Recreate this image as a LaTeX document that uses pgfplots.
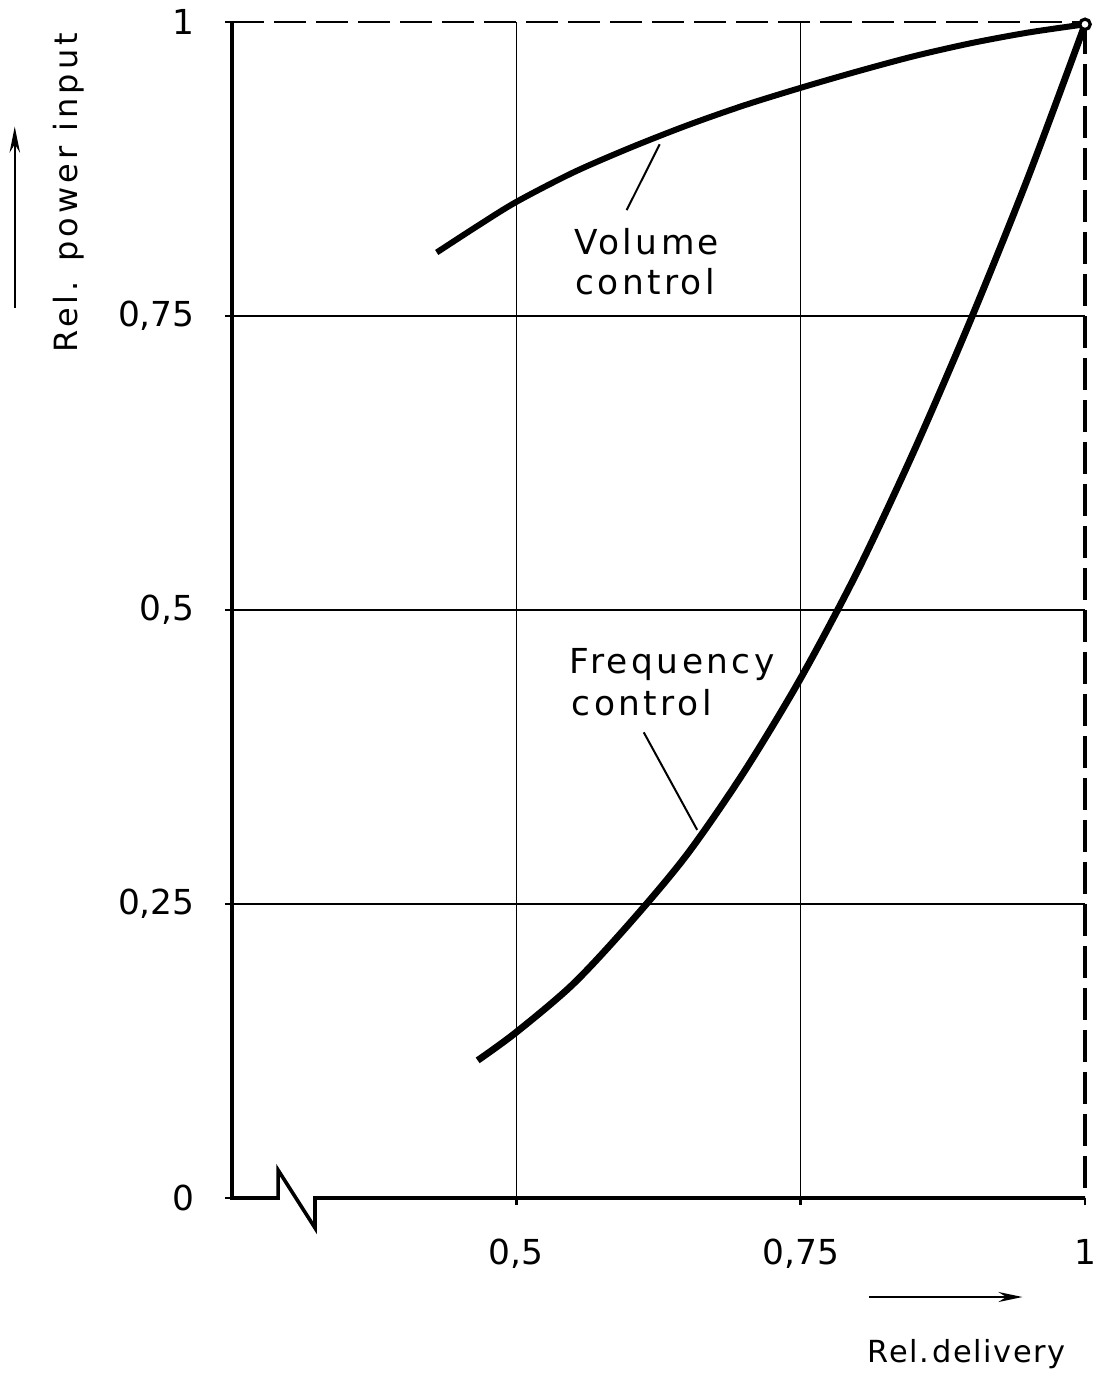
\documentclass[border=0pt]{standalone}
\usepackage{fontspec}
\setmainfont{DejaVu Sans}
\newfontfamily\lettering{DejaVu Sans}[LetterSpace=10]
\newfontfamily\wideletter{DejaVu Sans}[LetterSpace=13]
\newfontfamily\narrowletter{DejaVu Sans}[LetterSpace=5]
\usepackage{pgfplots}
\usepackage{pgfplotstable}
\pgfplotsset{compat=1.18}
\usetikzlibrary{arrows.meta}

% relative power input over relative delivery
\pgfplotstableread{
x      y
0.430  0.804
0.465  0.826
0.500  0.847
0.550  0.872
0.600  0.893
0.650  0.912
0.700  0.929
0.750  0.944
0.800  0.958
0.850  0.971
0.900  0.982
0.950  0.991
1.000  0.998
}\volumetab

\pgfplotstableread{
x      y
0.466  0.117
0.500  0.141
0.550  0.182
0.600  0.234
0.650  0.292
0.700  0.362
0.750  0.442
0.800  0.533
0.850  0.636
0.900  0.748
0.950  0.868
1.000  0.998
}\frequencytab

\begin{document}
\begin{tikzpicture}
\begin{axis}[
  scale only axis, width=213.25pt, height=294pt,
  xmin=0.25, xmax=1, ymin=0, ymax=1,
  axis line style={draw=none},
  xtick={0.5,0.75}, extra x ticks={1}, extra x tick style={grid=none},
  ytick={0.25,0.5,0.75}, extra y ticks={0,1}, extra y tick style={grid=none},
  grid=major, major grid style={black, line width=0.4pt},
  xtick pos=bottom, ytick pos=left,
  tick align=outside, major tick length=1.8pt,
  tick style={black, line width=0.6pt},
  /pgf/number format/use comma,
  /pgf/number format/assume math mode=true,
  ticklabel style={font=\fontsize{8.6}{10}\selectfont},
  xticklabel style={yshift=-5pt},
  yticklabel style={xshift=-4pt},
  clip=false,
]
% frame: solid axes with a break in the delivery axis, dashed limits at 1
\draw[line width=0.9pt, line join=miter]
  (axis cs:0.25,1) -- (axis cs:0.25,0) -- (axis cs:0.2905,0)
  -- (axis cs:0.2905,0.0238) -- (axis cs:0.323,-0.0255)
  -- (axis cs:0.323,0) -- (axis cs:1,0);
\draw[line width=0.45pt, dash pattern=on 8pt off 2.5pt]
  (axis cs:0.25,1) -- (axis cs:1,1);
\draw[line width=0.8pt, dash pattern=on 8pt off 2.5pt]
  (axis cs:1,1) -- (axis cs:1,0);

\addplot[black, line width=1.5pt, smooth] table {\volumetab};
\addplot[black, line width=1.7pt, smooth] table {\frequencytab};
\addplot[only marks, mark=*, mark size=1.3pt,
  mark options={draw=black, fill=white, line width=0.8pt}]
  coordinates {(1,0.998)};

% curve labels with leader lines
\draw[line width=0.5pt] (axis cs:0.626,0.896) -- (axis cs:0.597,0.840);
\draw[line width=0.5pt] (axis cs:0.612,0.396) -- (axis cs:0.659,0.313);
\begin{scope}[every node/.style={anchor=base west, inner sep=0pt,
    font=\lettering\fontsize{8.6}{10}\selectfont}]
  \node at (axis cs:0.550,0.802) {Volume};
  \node at (axis cs:0.551,0.768) {control};
  \node at (axis cs:0.546,0.4464) {Frequency};
  \node at (axis cs:0.548,0.4107) {control};
\end{scope}

% axis titles with direction arrows
\node[rotate=90, anchor=base, inner sep=0pt,
  font=\wideletter\fontsize{8}{10}\selectfont]
  at (axis cs:0.1144,0.8546) {Rel. power input};
\draw[line width=0.6pt, -{Stealth[length=6.5pt, width=2.6pt]}]
  (axis cs:0.059,0.757) -- (axis cs:0.059,0.911);
\node[anchor=base, inner sep=0pt,
  font=\narrowletter\fontsize{7.6}{10}\selectfont]
  at (axis cs:0.896,-0.1403) {Rel.\hspace{0.12em}delivery};
\draw[line width=0.6pt, -{Stealth[length=6pt, width=2.5pt]}]
  (axis cs:0.810,-0.0842) -- (axis cs:0.945,-0.0842);
\end{axis}
\pgfresetboundingbox
\path (-58pt,-44.5pt) rectangle (215pt,299.5pt);
\end{tikzpicture}
\end{document}
